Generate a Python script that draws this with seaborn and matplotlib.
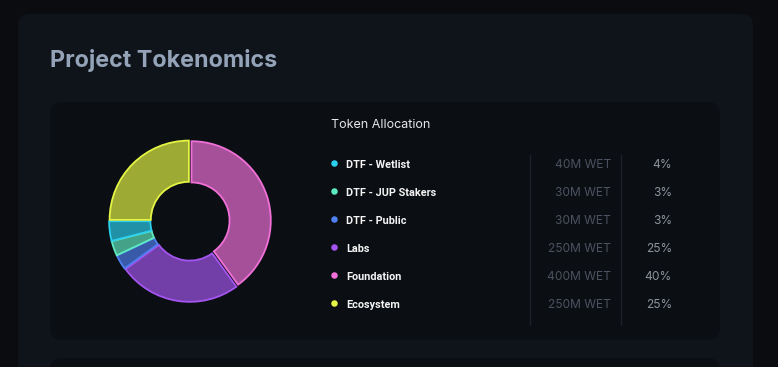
import matplotlib
matplotlib.use("Agg")
import matplotlib.pyplot as plt
import seaborn as sns
from matplotlib.patches import FancyBboxPatch
from matplotlib.colors import to_rgba

# data
labels = ['DTF - Wetlist', 'DTF - JUP Stakers', 'DTF - Public', 'Labs', 'Foundation', 'Ecosystem']
amounts = ['40M WET', '30M WET', '30M WET', '250M WET', '400M WET', '250M WET']
percents = [4, 3, 3, 25, 40, 25]
colors = ['#2bd0ee', '#5eeac0', '#4f7ff0', '#a455f0', '#f070d8', '#e4f545']

# order of slices clockwise from the top
pie_order = ['Foundation', 'Labs', 'DTF - Public', 'DTF - JUP Stakers', 'DTF - Wetlist', 'Ecosystem']

sns.set_theme(style="dark")
plt.rcParams['font.family'] = ['Inter', 'DejaVu Sans']

W, H = 778, 367
fig = plt.figure(figsize=(W / 100, H / 100), dpi=100)
fig.patch.set_facecolor('#0a0c10')

# background axes in pixel coordinates
bg = fig.add_axes([0, 0, 1, 1])
bg.set_xlim(0, W)
bg.set_ylim(H, 0)
bg.axis('off')

bg.add_patch(FancyBboxPatch((18, 14), 735, 400, boxstyle="round,pad=0,rounding_size=12",
                            fc='#0f131a', ec='none'))
bg.add_patch(FancyBboxPatch((50, 102), 670, 238, boxstyle="round,pad=0,rounding_size=12",
                            fc='#0b0e13', ec='none'))
bg.add_patch(FancyBboxPatch((50, 358), 670, 60, boxstyle="round,pad=0,rounding_size=12",
                            fc='#0b0e13', ec='none'))

bg.text(50, 66.5, 'Project Tokenomics', fontsize=16.8, fontweight='bold', color='#94a3b8',
        va='baseline', ha='left')
bg.text(331, 128.3, 'Token Allocation', fontsize=9, color='#e8e8ea', va='baseline', ha='left')

# divider lines
for x in [530, 621]:
    bg.plot([x, x], [155, 325], color='#1b2029', lw=1)

row_y0, row_step = 167.5, 28
for i, (lab, amt, pct, col) in enumerate(zip(labels, amounts, percents, colors)):
    y = row_y0 + i * row_step
    bg.scatter([334.5], [y - 4], s=22, color=col, edgecolors='none', zorder=3)
    bg.text(346, y, lab, fontsize=7.8, fontweight='bold', color='#f4f4f5', va='baseline',
            ha='left', family=['Roboto', 'DejaVu Sans'])
    bg.text(611, y, amt, fontsize=8.6, color='#4b5260', va='baseline', ha='right')
    bg.text(672, y, f'{pct}%', fontsize=8.6, color='#8c939e', va='baseline', ha='right')

# donut
R = 88
cx, cy = 190, 221
pax = fig.add_axes([(cx - R) / W, (H - cy - R) / H, 2 * R / W, 2 * R / H])
pax.set_facecolor('none')
vals = [percents[labels.index(n)] for n in pie_order]
cols = [colors[labels.index(n)] for n in pie_order]
wedges, _ = pax.pie(vals, startangle=90, counterclock=False, radius=1,
                    explode=[0.02] * len(vals),
                    wedgeprops=dict(width=0.52, linewidth=1.3))
for w, c in zip(wedges, cols):
    w.set_facecolor(to_rgba(c, 0.68))
    w.set_edgecolor(c)
pax.set_xlim(-1.11, 1.11)
pax.set_ylim(-1.11, 1.11)
pax.set_aspect('equal')
pax.axis('off')

fig.savefig('out.png', dpi=100, facecolor=fig.get_facecolor())
